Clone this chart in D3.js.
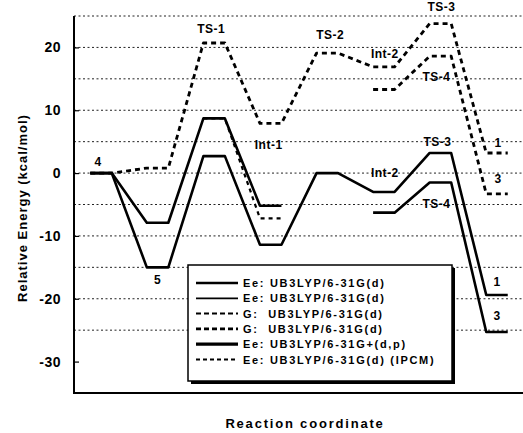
<!DOCTYPE html>
<html>
<head>
<meta charset="utf-8">
<script src="https://cdn.jsdelivr.net/npm/d3@7"></script>
<style>
  body { margin: 0; background: #fff; }
  svg text { font-family: "Liberation Sans", Arial, sans-serif; font-weight: bold; fill: #000; }
</style>
</head>
<body>
<svg id="chart" width="523" height="433"></svg>
<script>
// stage index: 0=4, 1=5, 2=TS-1, 3=Int-1, 4=TS-2, 5=Int-2, 6=TS-3/TS-4, 7=1/3
var yTicks = [20, 10, 0, -10, -20, -30];
var gridValues = [25, 20, 15, 10, 5, 0, -5, -10, -15, -20, -25];

var eeUpper = [{s:0, e:0}, {s:1, e:-7.9}, {s:2, e:8.7}, {s:3, e:-5.2}];
var eeLower = [{s:0, e:0}, {s:1, e:-15}, {s:2, e:2.7}, {s:3, e:-11.4}, {s:4, e:0}, {s:5, e:-3}, {s:6, e:3.2}, {s:7, e:-19.4}];
var eeTs4 = [{s:5, e:-6.3}, {s:6, e:-1.5}, {s:7, e:-25.3}];
var gMain = [{s:0, e:0}, {s:1, e:0.8}, {s:2, e:20.7}, {s:3, e:7.9}, {s:4, e:19.1}, {s:5, e:16.9}, {s:6, e:23.8}, {s:7, e:3.2}];
var gTs4 = [{s:5, e:13.3}, {s:6, e:18.6}, {s:7, e:-3.3}];
var ipcm = [{s:2, e:8.7}, {s:3, e:-7.2}];

var labels = [
  {t:"4", s:0, e:0, dx:-3, dy:-7},
  {t:"5", s:1, e:-15, dx:0, dy:17},
  {t:"TS-1", s:2, e:20.7, dx:-3, dy:-10},
  {t:"Int-1", s:3, e:7.9, dx:-2, dy:26},
  {t:"TS-2", s:4, e:19.1, dx:3, dy:-14},
  {t:"Int-2", s:5, e:16.9, dx:1, dy:-9},
  {t:"TS-3", s:6, e:23.8, dx:1, dy:-13},
  {t:"TS-4", s:6, e:18.6, dx:-4, dy:25},
  {t:"1", s:7, e:3.2, dx:1, dy:-6},
  {t:"3", s:7, e:-3.3, dx:1, dy:-11},
  {t:"TS-3", s:6, e:3.2, dx:-3, dy:-7},
  {t:"Int-2", s:5, e:-3, dx:1, dy:-15},
  {t:"TS-4", s:6, e:-1.5, dx:-4, dy:25},
  {t:"1", s:7, e:-19.4, dx:0, dy:-9},
  {t:"3", s:7, e:-25.3, dx:0, dy:-12}
];

var legendNames = [
  "Ee: UB3LYP/6-31G(d)",
  "Ee: UB3LYP/6-31G(d)",
  "G:  UB3LYP/6-31G(d)",
  "G:  UB3LYP/6-31G(d)",
  "Ee: UB3LYP/6-31G+(d,p)",
  "Ee: UB3LYP/6-31G(d) (IPCM)"
];

var svg = d3.select("#chart");
var pLeft = 74, pTop = 16, pRight = 523, pBottom = 393;

var xScale = d3.scaleLinear().domain([0, 7]).range([101, 497]);
var yScale = d3.scaleLinear().domain([-35, 25]).range([pBottom, pTop]);
var hw = 0.19;

// dotted grid
svg.selectAll("line.grid")
  .data(gridValues)
  .enter().append("line")
  .attr("class", "grid")
  .attr("x1", pLeft).attr("x2", pRight)
  .attr("y1", function(d){return yScale(d);})
  .attr("y2", function(d){return yScale(d);})
  .attr("stroke", "#222")
  .attr("stroke-width", 1)
  .attr("stroke-dasharray", "2,2.5");

// left axis
var yAxis = svg.append("g")
  .attr("transform", "translate(" + pLeft + ",0)")
  .call(d3.axisLeft(yScale).tickValues(yTicks).tickSize(-5).tickPadding(13)
    .tickFormat(function(d){return String(d);}));
yAxis.select(".domain").remove();
yAxis.selectAll("line").attr("stroke", "#000").attr("stroke-width", 1.2);
yAxis.selectAll("text")
  .style("font-family", "'Liberation Sans', Arial, sans-serif")
  .style("font-weight", "bold")
  .style("font-size", "14px")
  .style("letter-spacing", "0.5px");

svg.append("line").attr("x1", pLeft).attr("x2", pLeft).attr("y1", pTop).attr("y2", pBottom)
  .attr("stroke", "#000").attr("stroke-width", 2);
svg.append("line").attr("x1", pLeft - 1).attr("x2", pRight).attr("y1", pBottom).attr("y2", pBottom)
  .attr("stroke", "#000").attr("stroke-width", 2);

function stepPoints(arr) {
  var pts = [];
  arr.forEach(function(d){
    pts.push([xScale(d.s - hw), yScale(d.e)]);
    pts.push([xScale(d.s + hw), yScale(d.e)]);
  });
  return pts;
}
var line = d3.line();

var series = [
  {data: eeUpper, w: 2.6, dash: null},
  {data: eeLower, w: 2.6, dash: null},
  {data: eeTs4, w: 2.6, dash: null},
  {data: gMain, w: 2.8, dash: "5,4"},
  {data: gTs4, w: 2.8, dash: "5,4"},
  {data: ipcm, w: 2.2, dash: "4,4"}
];
svg.selectAll("path.series")
  .data(series)
  .enter().append("path")
  .attr("class", "series")
  .attr("d", function(d){return line(stepPoints(d.data));})
  .attr("fill", "none")
  .attr("stroke", "#000")
  .attr("stroke-width", function(d){return d.w;})
  .attr("stroke-linejoin", "round")
  .attr("stroke-dasharray", function(d){return d.dash;});

// structure labels
svg.selectAll("text.lab")
  .data(labels)
  .enter().append("text")
  .attr("class", "lab")
  .attr("x", function(d){return xScale(d.s) + d.dx;})
  .attr("y", function(d){return yScale(d.e) + d.dy;})
  .attr("text-anchor", "middle")
  .style("font-size", "12px")
  .style("letter-spacing", "0.5px")
  .text(function(d){return d.t;});

// legend
var lg = svg.append("g");
var lx = 188, ly = 265, lw = 264, lh = 116;
lg.append("rect").attr("x", lx + 3).attr("y", ly + 3).attr("width", lw).attr("height", lh).attr("fill", "#000");
lg.append("rect").attr("x", lx).attr("y", ly).attr("width", lw).attr("height", lh)
  .attr("fill", "#fff").attr("stroke", "#000").attr("stroke-width", 1.5);
var legStyles = [
  {w: 2.5, dash: null},
  {w: 1.8, dash: null},
  {w: 2, dash: "5,3"},
  {w: 2.8, dash: "5,3"},
  {w: 3.2, dash: null},
  {w: 1.8, dash: "4,3"}
];
legendNames.forEach(function(name, i){
  var yy = ly + 18 + i * 15.3;
  lg.append("line").attr("x1", lx + 8).attr("x2", lx + 50).attr("y1", yy).attr("y2", yy)
    .attr("stroke", "#000").attr("stroke-width", legStyles[i].w)
    .attr("stroke-dasharray", legStyles[i].dash);
  lg.append("text").attr("x", lx + 55).attr("y", yy + 4)
    .style("font-size", "11px").style("letter-spacing", "1.7px")
    .style("white-space", "pre")
    .text(name);
});

// axis titles
svg.append("text")
  .attr("x", 305).attr("y", 428)
  .attr("text-anchor", "middle")
  .style("font-size", "13px").style("letter-spacing", "1.8px")
  .text("Reaction coordinate");
svg.append("text")
  .attr("transform", "translate(27,208) rotate(-90)")
  .attr("text-anchor", "middle")
  .style("font-size", "13px").style("letter-spacing", "1px")
  .text("Relative Energy (kcal/mol)");
</script>
</body>
</html>
